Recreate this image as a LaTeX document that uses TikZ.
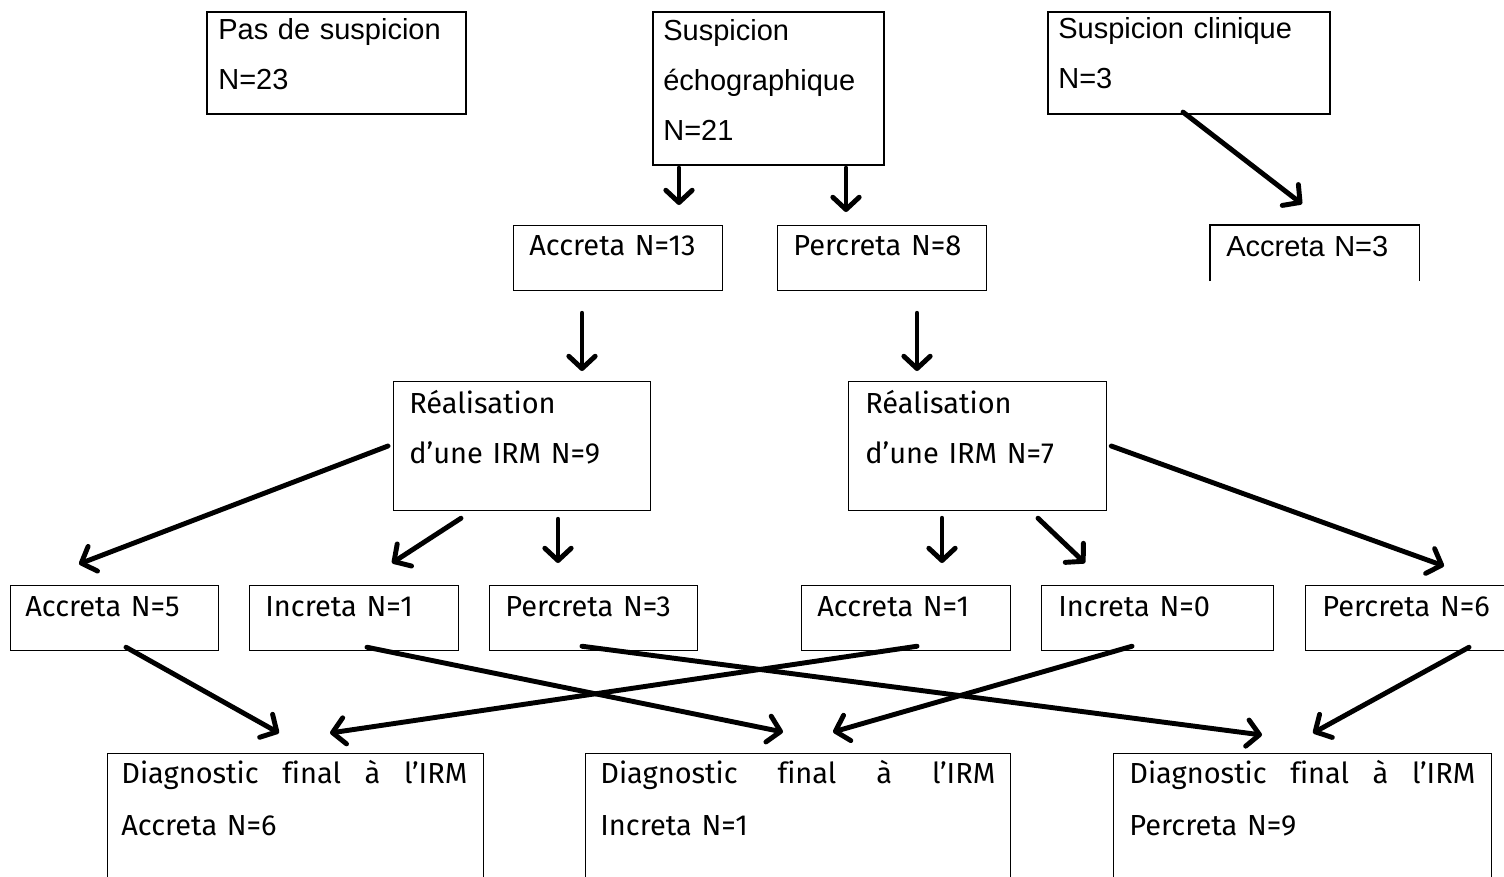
\documentclass[tikz,border=0pt]{standalone}
\usepackage{fontspec}
\setmainfont{Fira Sans}[Numbers=Lining, Ligatures=NoCommon]
\newfontfamily\arialfont{Liberation Sans}
\usetikzlibrary{arrows.meta}
\newcommand{\pxu}{0.02cm}

\begin{document}
\begin{tikzpicture}[x=0.02cm, y=-0.02cm,
    boite/.style={draw, line width=0.7pt, anchor=north west, inner sep=0pt},
    gras/.style={boite, line width=1.2pt},
    texte/.style={anchor=base west, inner sep=0pt, align=left, text width=7cm,
        font=\fontsize{16.5}{29}\selectfont},
    arial/.style={texte, font=\arialfont\fontsize{16.5}{28.5}\selectfont},
    diagtexte/.style={texte, font=\fontsize{16.5}{30}\selectfont},
    fleche/.style={line width=2.8pt, line cap=round, -{Straight Barb[round, length=7pt, width=15pt]}}]

    \useasboundingbox (0,0) rectangle (1504,876);
    \clip (0,0) rectangle (1504,876);

    % Cadres du haut
    \node[gras, minimum width=259*\pxu, minimum height=102*\pxu] (pas)  at (206,11)  {};
    \node[gras, minimum width=231*\pxu, minimum height=153*\pxu] (echo) at (652,11)  {};
    \node[gras, minimum width=282*\pxu, minimum height=102*\pxu] (clin) at (1047,11) {};

    \node[arial] (pasT)  at ([shift={(12,28)}]pas.north west)  {Pas de suspicion\\N=23};
    \node[arial] (echoT) at ([shift={(11,29)}]echo.north west) {Suspicion\\échographique\\N=21};
    \node[arial] (clinT) at ([shift={(11,27)}]clin.north west) {Suspicion clinique\\N=3};

    % Echographie
    \node[boite, minimum width=209*\pxu, minimum height=65*\pxu] (acc13) at (513,225) {};
    \node[boite, minimum width=209*\pxu, minimum height=65*\pxu] (per8)  at (777,225) {};
    \node[boite, draw=none, minimum width=208*\pxu, minimum height=55*\pxu] (acc3) at (1210,225) {};
    \draw[line width=0.8pt] (acc3.south west) -- (acc3.north west) -- (acc3.north east) -- (acc3.south east);

    \node[texte] (acc13T) at ([shift={(16,30)}]acc13.north west) {Accreta N=13};
    \node[texte] (per8T)  at ([shift={(16,30)}]per8.north west)  {Percreta N=8};
    \node[arial] (acc3T)  at ([shift={(16,31)}]acc3.north west)  {Accreta N=3};

    % IRM
    \node[boite, minimum width=257*\pxu, minimum height=129*\pxu] (irm9) at (393,381) {};
    \node[boite, minimum width=258*\pxu, minimum height=129*\pxu] (irm7) at (848,381) {};

    \node[texte] (irm9T) at ([shift={(16,32)}]irm9.north west) {Réalisation\\d’une IRM N=9};
    \node[texte] (irm7T) at ([shift={(17,32)}]irm7.north west) {Réalisation\\d’une IRM N=7};

    % Resultats IRM
    \node[boite, minimum width=208*\pxu, minimum height=65*\pxu] (acc5) at (10,585)   {};
    \node[boite, minimum width=209*\pxu, minimum height=65*\pxu] (inc1) at (249,585)  {};
    \node[boite, minimum width=208*\pxu, minimum height=65*\pxu] (per3) at (489,585)  {};
    \node[boite, minimum width=209*\pxu, minimum height=65*\pxu] (acc1) at (801,585)  {};
    \node[boite, minimum width=232*\pxu, minimum height=65*\pxu] (inc0) at (1041,585) {};
    \node[boite, minimum width=220*\pxu, minimum height=65*\pxu] (per6) at (1305,585) {};

    \node[texte] (acc5T) at ([shift={(15,31)}]acc5.north west) {Accreta N=5};
    \node[texte] (inc1T) at ([shift={(16,31)}]inc1.north west) {Increta N=1};
    \node[texte] (per3T) at ([shift={(16,31)}]per3.north west) {Percreta N=3};
    \node[texte] (acc1T) at ([shift={(16,31)}]acc1.north west) {Accreta N=1};
    \node[texte] (inc0T) at ([shift={(17,31)}]inc0.north west) {Increta N=0};
    \node[texte] (per6T) at ([shift={(17,31)}]per6.north west) {Percreta N=6};

    % Diagnostic final
    \node[boite, minimum width=376*\pxu, minimum height=140*\pxu] (diag1) at (107,753)  {};
    \node[boite, minimum width=425*\pxu, minimum height=140*\pxu] (diag2) at (585,753)  {};
    \node[boite, minimum width=378*\pxu, minimum height=140*\pxu] (diag3) at (1113,753) {};

    \node[diagtexte, text width=346*\pxu] (diag1T) at ([shift={(14,30)}]diag1.north west)
        {\hbox to \linewidth{Diagnostic\hfill final\hfill à\hfill l’IRM}\\Accreta N=6};
    \node[diagtexte, text width=395*\pxu] (diag2T) at ([shift={(15,30)}]diag2.north west)
        {\hbox to \linewidth{Diagnostic\hfill final\hfill à\hfill l’IRM}\\Increta N=1};
    \node[diagtexte, text width=346*\pxu] (diag3T) at ([shift={(16,30)}]diag3.north west)
        {\hbox to \linewidth{Diagnostic\hfill final\hfill à\hfill l’IRM}\\Percreta N=9};

    % Fleches
    \draw[fleche] ([shift={(27,2)}]echo.south west)  -- ([shift={(166,-20)}]acc13.north west);
    \draw[fleche] ([shift={(194,2)}]echo.south west) -- ([shift={(69,-13)}]per8.north west);
    \draw[fleche] ([shift={(136,-3)}]clin.south west) -- ([shift={(92,-21)}]acc3.north west);

    \draw[fleche] ([shift={(69,22)}]acc13.south west) -- ([shift={(189,-10)}]irm9.north west);
    \draw[fleche] ([shift={(140,22)}]per8.south west) -- ([shift={(69,-10)}]irm7.north west);

    \draw[fleche] ([shift={(-5,65)}]irm9.north west) -- ([shift={(69,-21)}]acc5.north west);
    \draw[fleche] ([shift={(68,7)}]irm9.south west)  -- ([shift={(143,-22)}]inc1.north west);
    \draw[fleche] ([shift={(165,8)}]irm9.south west) -- ([shift={(69,-22)}]per3.north west);
    \draw[fleche] ([shift={(94,7)}]irm7.south west)  -- ([shift={(141,-22)}]acc1.north west);
    \draw[fleche] ([shift={(190,7)}]irm7.south west) -- ([shift={(44,-22)}]inc0.north west);
    \draw[fleche] ([shift={(4,65)}]irm7.north east)  -- ([shift={(139,-19)}]per6.north west);

    \draw[fleche] ([shift={(116,-4)}]acc5.south west) -- ([shift={(172,-20)}]diag1.north west);
    \draw[fleche] ([shift={(116,-5)}]acc1.south west) -- ([shift={(223,-20)}]diag1.north west);
    \draw[fleche] ([shift={(118,-4)}]inc1.south west) -- ([shift={(198,-21)}]diag2.north west);
    \draw[fleche] ([shift={(91,-5)}]inc0.south west)  -- ([shift={(248,-21)}]diag2.north west);
    \draw[fleche] ([shift={(93,-5)}]per3.south west)  -- ([shift={(149,-18)}]diag3.north west);
    \draw[fleche] ([shift={(164,-4)}]per6.south west) -- ([shift={(200,-20)}]diag3.north west);
\end{tikzpicture}
\end{document}
